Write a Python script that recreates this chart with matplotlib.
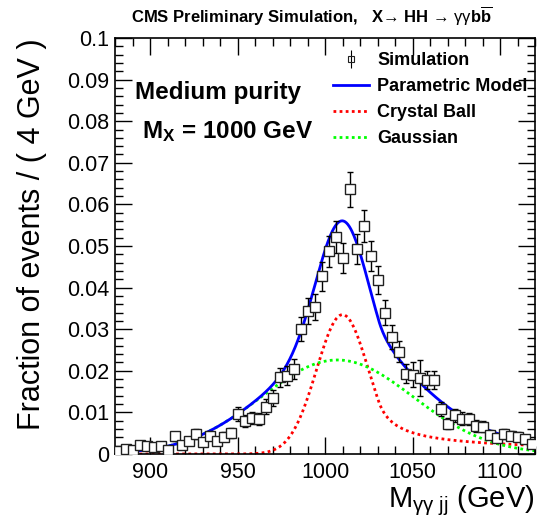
import numpy as np
import matplotlib
matplotlib.use('Agg')
import matplotlib.pyplot as plt
from matplotlib.ticker import MultipleLocator, FuncFormatter
from matplotlib.lines import Line2D

plt.rcParams['font.family'] = ['Liberation Sans', 'DejaVu Sans']
plt.rcParams['mathtext.fontset'] = 'custom'
plt.rcParams['mathtext.rm'] = 'Liberation Sans'
plt.rcParams['mathtext.it'] = 'Liberation Sans:italic'
plt.rcParams['mathtext.bf'] = 'Liberation Sans:bold'

# simulated signal, 4 GeV bins
bin_centers = [882, 886, 890, 894, 898, 902, 906, 910, 914, 918,
               922, 926, 930, 934, 938, 942, 946, 950, 954, 958,
               962, 966, 970, 974, 978, 982, 986, 990, 994, 998,
               1002, 1006, 1010, 1014, 1018, 1022, 1026, 1030, 1034, 1038,
               1042, 1046, 1050, 1054, 1058, 1062, 1066, 1070, 1074, 1078,
               1082, 1086, 1090, 1094, 1098, 1102, 1106, 1110, 1114, 1118]
frac = [0.0007, 0.0011, 0.0010, 0.0022, 0.0020, 0.0018, 0.0019, 0.0010, 0.0043, 0.0022,
        0.0032, 0.0047, 0.0030, 0.0044, 0.0031, 0.0042, 0.0051, 0.0096, 0.0079, 0.0086,
        0.0084, 0.0114, 0.0134, 0.0184, 0.0188, 0.0204, 0.0300, 0.0343, 0.0353, 0.0427,
        0.0487, 0.0521, 0.0472, 0.0636, 0.0493, 0.0548, 0.0477, 0.0419, 0.0340, 0.0281,
        0.0246, 0.0193, 0.0191, 0.0182, 0.0178, 0.0178, 0.0108, 0.0073, 0.0093, 0.0085,
        0.0084, 0.0067, 0.0066, 0.0046, 0.0039, 0.0049, 0.0044, 0.0042, 0.0036, 0.0024]
frac_err = [0.0005, 0.0006, 0.0006, 0.0008, 0.0008, 0.0007, 0.0007, 0.0005, 0.0011, 0.0008,
            0.0010, 0.0012, 0.0009, 0.0011, 0.0009, 0.0011, 0.0012, 0.0016, 0.0015, 0.0015,
            0.0015, 0.0018, 0.0019, 0.0023, 0.0023, 0.0024, 0.0029, 0.0031, 0.0031, 0.0035,
            0.0037, 0.0038, 0.0036, 0.0042, 0.0037, 0.0039, 0.0036, 0.0034, 0.0031, 0.0028,
            0.0026, 0.0023, 0.0030, 0.0043, 0.0022, 0.0022, 0.0017, 0.0014, 0.0016, 0.0015,
            0.0015, 0.0014, 0.0014, 0.0011, 0.0010, 0.0012, 0.0011, 0.0011, 0.0010, 0.0008]

# fit parameters
cb_peak, cb_mean, cb_sigma, cb_alpha, cb_n = 0.0335, 1010.0, 14.8, 1.4, 0.7
gaus_peak, gaus_mean, gaus_sigma = 0.0226, 1007.0, 43.5


def crystal_ball(x):
    # tail on the high side
    t = (x - cb_mean) / cb_sigma
    A = (cb_n / cb_alpha) ** cb_n * np.exp(-0.5 * cb_alpha ** 2)
    B = cb_n / cb_alpha - cb_alpha
    core = np.exp(-0.5 * t ** 2)
    tail = A * np.power(np.clip(B + t, 1e-6, None), -cb_n)
    return cb_peak * np.where(t <= cb_alpha, core, tail)


def gaussian(x):
    return gaus_peak * np.exp(-0.5 * ((x - gaus_mean) / gaus_sigma) ** 2)


xx = np.linspace(880, 1120, 600)
cb = crystal_ball(xx)
gs = gaussian(xx)

fig = plt.figure(figsize=(5.48, 5.24), dpi=100)
ax = fig.add_axes([0.2099, 0.1336, 0.7664, 0.7939])

ax.plot(xx, cb, color='#ff0000', lw=2.0, ls=(0, (1, 1.2)))
ax.plot(xx, gs, color='#00ff00', lw=2.0, ls=(0, (1, 1.2)))
ax.plot(xx, cb + gs, color='#0000ff', lw=2.0)
ax.errorbar(bin_centers, frac, yerr=frac_err, fmt='s', ms=7, mfc='white', mec='#202020',
            mew=1.0, ecolor='black', elinewidth=1.0, capsize=2, capthick=1.0, zorder=5)

ax.set_xlim(880, 1120)
ax.set_ylim(0, 0.1)
ax.xaxis.set_major_locator(MultipleLocator(50))
ax.xaxis.set_minor_locator(MultipleLocator(10))
ax.yaxis.set_major_locator(MultipleLocator(0.01))
ax.yaxis.set_minor_locator(MultipleLocator(0.002))
ax.yaxis.set_major_formatter(FuncFormatter(lambda v, p: '%g' % round(v, 3)))
ax.tick_params(which='both', direction='in', top=True, right=True, labelsize=15.5, width=1.0)
ax.tick_params(which='major', length=12)
ax.tick_params(which='minor', length=6)
ax.tick_params(axis='x', pad=6)
ax.tick_params(axis='y', pad=4)
for sp in ax.spines.values():
    sp.set_linewidth(1.2)

ax.text(1.0, -0.128, r'M$_{\mathrm{γγ\ jj}}$ (GeV)', transform=ax.transAxes,
        ha='right', va='baseline', fontsize=21)
ax.text(-0.198, 1.0, 'Fraction of events / ( 4 GeV )', transform=ax.transAxes,
        rotation=90, ha='center', va='top', fontsize=22)

fig.text(0.569, 0.9685,
         r'CMS Preliminary Simulation,   X→ HH → $\mathrm{γγ}$b$\overline{\mathbf{b}}$',
         ha='center', va='center', fontsize=12, fontweight='bold')

ax.text(0.048, 0.870, 'Medium purity', transform=ax.transAxes, ha='left', va='center',
        fontsize=17.5, fontweight='bold')
ax.text(0.064, 0.774, r'$\mathbf{M_{X}}$ = 1000 GeV', transform=ax.transAxes, ha='left',
        va='center', fontsize=17.5, fontweight='bold')

h_sim = ax.errorbar([], [], yerr=[], fmt='s', ms=5, mfc='none', mec='#202020', mew=0.8,
                    ecolor='black', elinewidth=0.8)
h_model = Line2D([], [], color='#0000ff', lw=2.0)
h_cb = Line2D([], [], color='#ff0000', lw=2.0, ls=(0, (1, 1.2)))
h_gs = Line2D([], [], color='#00ff00', lw=2.0, ls=(0, (1, 1.2)))
ax.legend([h_sim, h_model, h_cb, h_gs], ['Simulation', 'Parametric Model', 'Crystal Ball', 'Gaussian'],
          loc='upper left', bbox_to_anchor=(0.519, 0.966), frameon=False, borderpad=0,
          borderaxespad=0, handlelength=2.0, handletextpad=0.45, labelspacing=0.5,
          prop={'weight': 'bold', 'size': 13})

fig.savefig('out.png', dpi=100)
